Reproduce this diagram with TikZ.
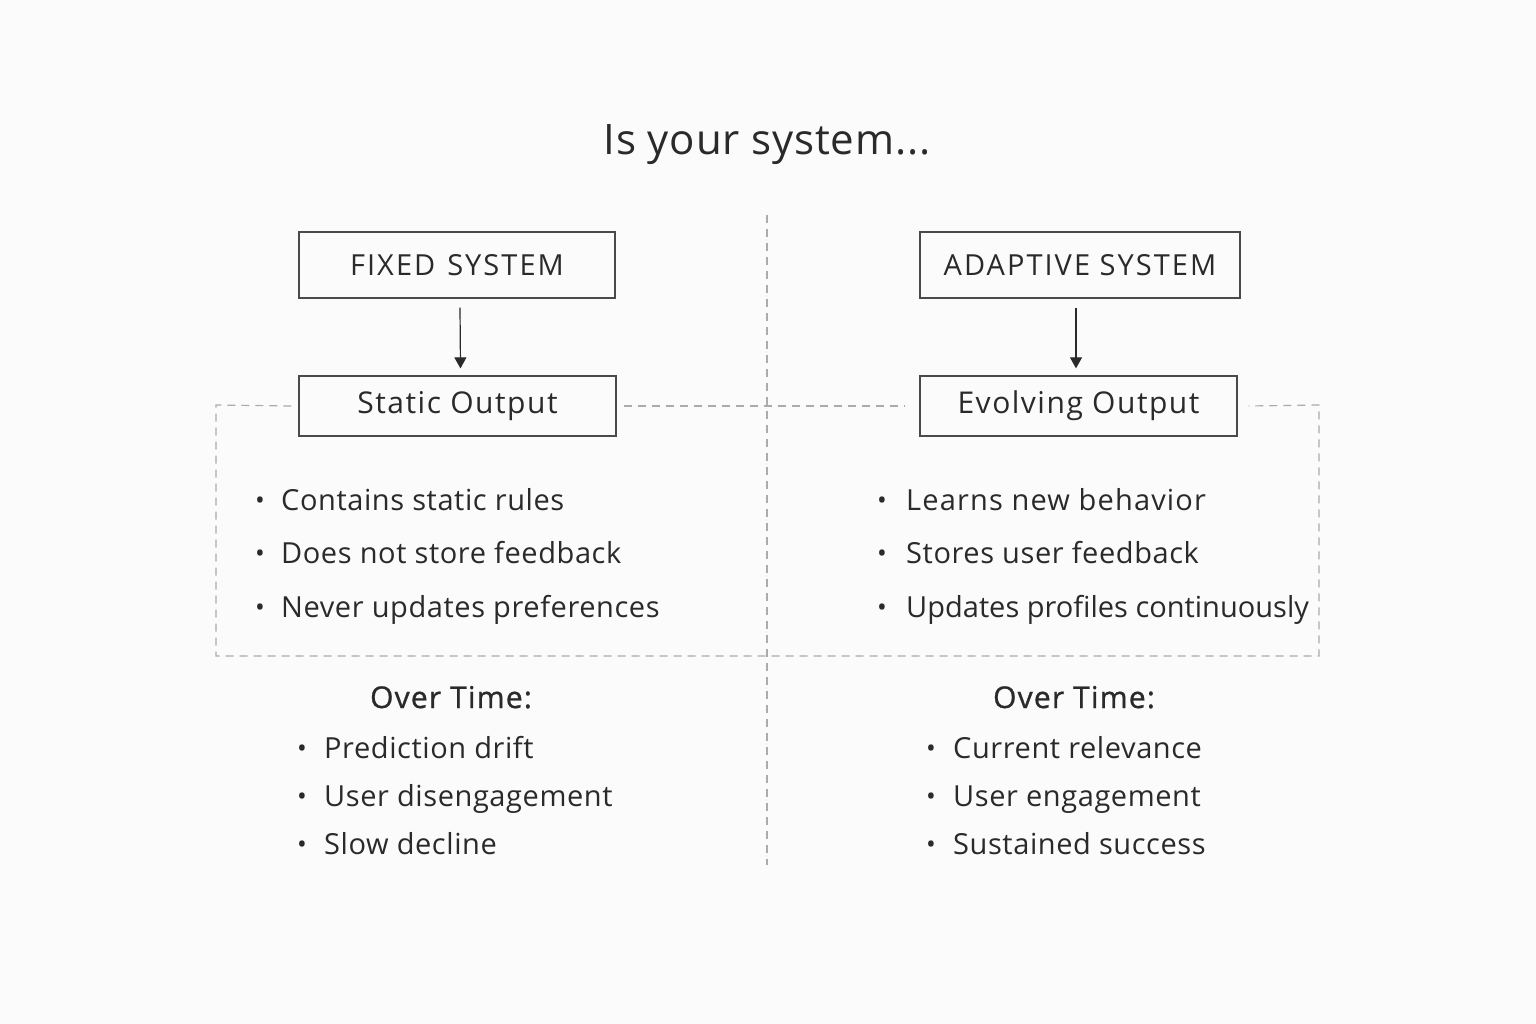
\documentclass[tikz,border=0pt]{standalone}
\usepackage{fontspec}
\setmainfont{Open Sans}
\usetikzlibrary{arrows.meta}
\definecolor{ink}{HTML}{2A2A2A}
\definecolor{frame}{HTML}{4A4A4A}
\definecolor{dash}{HTML}{ABABAB}
\definecolor{bg}{HTML}{FCFBFC}
\tikzset{
  sysbox/.style={draw=frame, line width=1.3pt, minimum width=#1, minimum height=66pt, inner sep=0pt, text=ink, font=\fontsize{29}{32}\selectfont\addfontfeature{LetterSpace=7}},
  outbox/.style={draw=frame, line width=1.3pt, minimum width=317pt, minimum height=60pt, inner sep=0pt, text=ink, font=\fontsize{30}{33}\selectfont\addfontfeature{LetterSpace=5}},
  arr/.style={draw=ink, line width=1.2pt, -{Triangle[length=11pt,width=12pt]}},
  dashln/.style={draw=dash, line width=1.2pt, dash pattern=on 8pt off 6pt},
  item/.style={anchor=base west, inner sep=0pt, text=ink, font=\fontsize{29}{32}\selectfont\addfontfeature{LetterSpace=2}},
  tightitem/.style={item, font=\fontsize{29}{32}\selectfont\addfontfeature{LetterSpace=0}},
  wideitem/.style={item, font=\fontsize{29}{32}\selectfont\addfontfeature{LetterSpace=4}},
  bul/.style={anchor=base, inner sep=0pt, text=ink, font=\fontsize{26}{28}\selectfont},
  head/.style={anchor=base, inner sep=0pt, text=ink, font=\fontsize{30}{32}\selectfont\addfontfeature{FakeBold=1,LetterSpace=4}},
}
\begin{document}
\begin{tikzpicture}[x=1pt,y=-1pt]
\fill[bg] (0,0) rectangle (1536,1024);
\useasboundingbox (0,0) rectangle (1536,1024);

\node[anchor=base, inner sep=0pt, text=ink, font=\fontsize{42}{48}\selectfont\addfontfeature{LetterSpace=2}] (title) at (767,155) {Is your system...};

% center divider
\coordinate (divtop) at (767,215);
\coordinate (divbot) at (767,865);
\draw[dashln] (divtop) -- (divbot);

% boxes
\node[sysbox=316pt] (fixed) at (457,265) {FIXED\hspace{12pt}SYSTEM};
\node[outbox] (static) at (457.5,406) {Static Output};
\node[sysbox=320pt] (adaptive) at (1080,265) {ADAPTIVE SYSTEM};
\node[outbox] (evolving) at (1078.5,406) {Evolving Output};

\draw[arr] ([xshift=3pt,yshift=-9pt]fixed.south) -- ([xshift=3pt,yshift=7pt]static.north);
\draw[arr] ([xshift=-4pt,yshift=-9pt]adaptive.south) -- ([xshift=-2.5pt,yshift=7pt]evolving.north);

% dashed frame
\coordinate (fl) at (216,405);
\coordinate (fr) at (1319,405);
\coordinate (bl) at (216,656);
\coordinate (br) at (1319,656);
\draw[dashln] ([xshift=-7pt]static.west) -- (fl) -- (bl) -- (br) -- (fr) -- ([xshift=11pt]evolving.east);
\draw[dashln] ([xshift=7pt]static.east) -- ([xshift=-15pt]evolving.west);

% left bullets
\node[bul] (lb1) at (260,509) {•};
\node[item] (l1) at (281,510) {Contains static rules};
\node[bul] (lb2) at (260,562) {•};
\node[item] (l2) at (281,563) {Does not store feedback};
\node[bul] (lb3) at (260,616) {•};
\node[item] (l3) at (281,617) {Never updates preferences};

% right bullets
\node[bul] (rb1) at (882,509) {•};
\node[wideitem] (r1) at (906,510) {Learns new behavior};
\node[bul] (rb2) at (882,562) {•};
\node[item] (r2) at (906,563) {Stores user feedback};
\node[bul] (rb3) at (882,616) {•};
\node[tightitem] (r3) at (906,617) {Updates profiles continuously};

% over time left
\node[head] (ol) at (451,708) {Over Time:};
\node[bul] (olb1) at (302,757) {•};
\node[item] (ol1) at (324,758) {Prediction drift};
\node[bul] (olb2) at (302,805) {•};
\node[item] (ol2) at (324,806) {User disengagement};
\node[bul] (olb3) at (302,853) {•};
\node[item] (ol3) at (324,854) {Slow decline};

% over time right
\node[head] (or) at (1074,708) {Over Time:};
\node[bul] (orb1) at (931,757) {•};
\node[item] (or1) at (953,758) {Current relevance};
\node[bul] (orb2) at (931,805) {•};
\node[item] (or2) at (953,806) {User engagement};
\node[bul] (orb3) at (931,853) {•};
\node[item] (or3) at (953,854) {Sustained success};
\end{tikzpicture}
\end{document}
